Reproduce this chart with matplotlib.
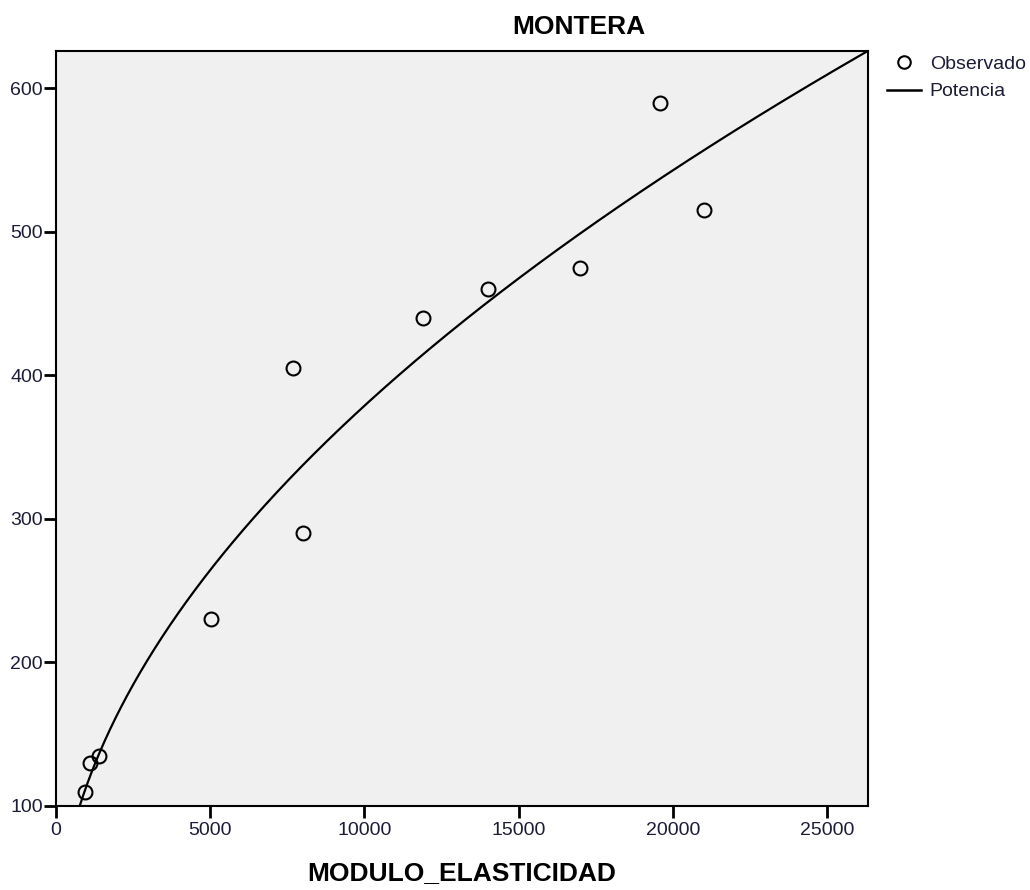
import numpy as np
import matplotlib
matplotlib.use("Agg")
import matplotlib.pyplot as plt
from matplotlib.lines import Line2D

# Observed data: elastic modulus vs. response
modulo_elasticidad = [950, 1100, 1400, 5040, 7700, 8000, 11900, 14000, 17000, 19600, 21000]
observado = [110, 130, 135, 230, 405, 290, 440, 460, 475, 590, 515]

# Power model y = a * x^b
POWER_A = 3.18
POWER_B = 0.519

x_ticks = [0, 5000, 10000, 15000, 20000, 25000]
y_ticks = [100, 200, 300, 400, 500, 600]

title_text = "MONTERA"
x_label = "MODULO_ELASTICIDAD"
legend_labels = ["Observado", "Potencia"]

plt.rcParams["font.family"] = ["Liberation Sans", "DejaVu Sans"]

W, H = 1030, 890
fig = plt.figure(figsize=(W / 100, H / 100), dpi=100, facecolor="white")
ax = fig.add_axes([56 / W, 1 - 806 / H, (868 - 56) / W, (806 - 51) / H])
ax.set_facecolor("#f0f0f0")

xs = np.linspace(1, 26330, 600)
ax.plot(xs, POWER_A * xs ** POWER_B, color="black", lw=1.6, zorder=2)
ax.plot(modulo_elasticidad, observado, linestyle="none", marker="o", ms=10,
        mfc="none", mec="black", mew=1.5, zorder=3)

ax.set_xlim(0, 26330)
ax.set_ylim(100, 626)
ax.set_xticks(x_ticks)
ax.set_yticks(y_ticks)
ax.set_xticklabels([str(t) for t in x_ticks])
ax.set_yticklabels([str(t) for t in y_ticks])

for s in ax.spines.values():
    s.set_linewidth(1.5)
    s.set_color("black")
ax.tick_params(direction="out", length=8.5, width=2.0, color="black",
               labelsize=14, labelcolor="#1c1c38")
ax.tick_params(axis="x", pad=3)
ax.tick_params(axis="y", pad=1)

fig.text(579 / W, 1 - 27 / H, title_text, ha="center", va="center",
         fontsize=19, fontweight="bold", color="black")
fig.text(462 / W, 1 - 873 / H, x_label, ha="center", va="center",
         fontsize=19, fontweight="bold", color="black")

handles = [
    Line2D([], [], linestyle="none", marker="o", ms=9, mfc="none", mec="black", mew=1.5),
    Line2D([], [], color="black", lw=1.8),
]
fig.legend(handles, legend_labels, loc="upper left",
           bbox_to_anchor=(887 / W, 1 - 55 / H), frameon=False,
           fontsize=14, handlelength=1.75, handletextpad=0.45,
           labelspacing=0.52, borderaxespad=0, borderpad=0,
           labelcolor="#1c1c38")

fig.savefig("out.png", dpi=100, facecolor="white")
